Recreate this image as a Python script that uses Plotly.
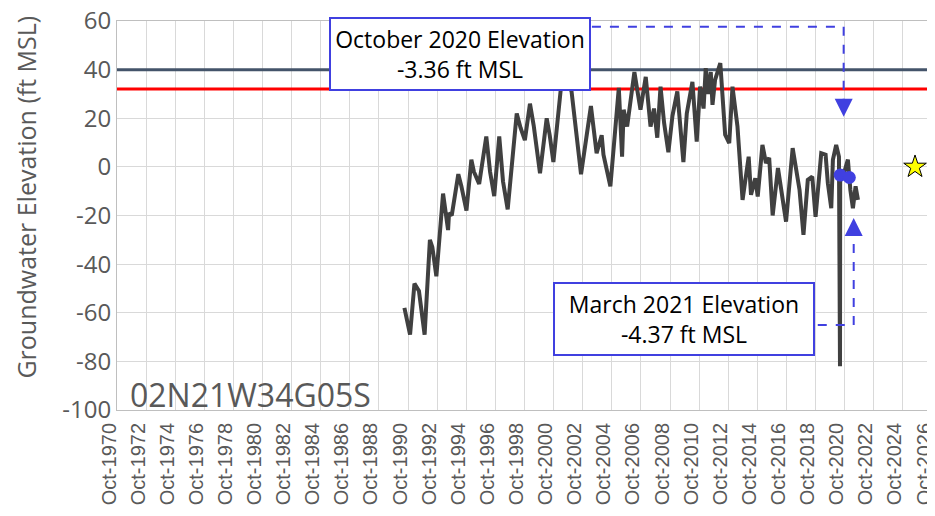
import plotly.graph_objects as go

# Hydrograph readings (date, groundwater elevation in ft MSL)
datas = [
    '1990-07-01', '1990-11-20', '1991-03-10', '1991-07-01', '1991-11-20',
    '1992-04-01', '1992-06-01', '1992-09-10', '1993-02-25', '1993-07-01',
    '1993-07-25', '1993-10-01', '1994-03-15', '1994-06-01', '1994-10-05',
    '1995-02-05', '1995-04-10', '1995-08-20', '1996-02-15', '1996-05-20',
    '1996-09-01', '1997-01-05', '1997-04-10', '1997-08-05', '1998-03-20',
    '1998-06-25', '1998-10-10', '1999-02-15', '1999-05-20', '1999-10-25',
    '2000-04-10', '2000-06-25', '2000-09-25', '2001-04-05', '2001-08-05',
    '2001-12-25', '2002-08-20', '2003-04-25', '2003-09-15', '2004-01-20',
    '2004-03-05', '2004-08-25', '2005-03-25', '2005-06-15', '2005-07-25',
    '2005-10-20', '2006-04-20', '2006-09-20', '2007-01-30', '2007-05-30',
    '2007-08-25', '2007-11-15', '2008-02-05', '2008-05-05', '2008-08-20',
    '2008-11-30', '2009-04-01', '2009-09-01', '2009-11-25', '2010-04-15',
    '2010-08-01', '2010-10-25', '2011-01-20', '2011-03-15', '2011-05-20',
    '2011-07-20', '2011-09-01', '2011-11-05', '2012-03-15', '2012-07-15',
    '2012-10-25', '2013-01-15', '2013-05-20', '2013-09-25', '2014-02-25',
    '2014-04-25', '2014-08-10', '2014-10-10', '2015-02-05', '2015-05-05',
    '2015-07-25', '2015-10-20', '2016-03-01', '2016-05-20', '2016-09-20',
    '2017-03-05', '2017-05-30', '2017-08-25', '2017-12-01', '2018-03-20',
    '2018-07-10', '2018-10-01', '2019-02-20', '2019-06-10', '2019-08-05',
    '2019-10-30', '2019-12-10', '2020-03-01', '2020-05-10', '2020-06-05',
    '2020-06-10', '2020-08-20', '2020-12-20', '2021-01-25', '2021-02-20',
    '2021-04-25', '2021-07-01', '2021-08-30',
]
elevacao = [
    -58, -69, -48, -51, -69,
    -30, -33, -45, -11, -26,
    -19, -20, -3, -8, -18,
    3, -2, -7, 12.5, -2,
    -12, 12.5, -6, -17.5, 22,
    16, 11, 26, 17, -2.6,
    20, 13, 2, 33, 36,
    31, -3, 25, 5.6, 13,
    5, -8, 32.5, 4.2, 23.5,
    16.6, 39, 23.5, 37, 16.6,
    24, 12, 33, 18, 6,
    21, 31, 2, 22, 35,
    10.4, 33, 24, 40.6, 30,
    39, 25.5, 35.8, 42.7, 13.2,
    9.8, 33, 16.6, -13.6, 4.2,
    -11.5, -4.7, -12.2, 9, 1.6,
    3.7, -20, -0.5, -9.5, -22.5,
    7.7, 0, -9.5, -28, -5.3,
    -4, -20.5, 5.6, 5, -6.7,
    -17, 2.9, 9, 4.2, -82,
    -3.36, -4, 3, -4.37, -9.5,
    -17, -8, -13.6,
]

# highlighted readings
destaque_datas = ['2020-06-10', '2021-01-25']
destaque_valores = [-3.36, -4.37]

# reference levels (ft MSL)
nivel_cinza = 40
nivel_vermelho = 32
limites_x = ['1970-10-01', '2026-10-01']

# star marker
estrela_data = ['2025-08-01']
estrela_valor = [0]

anos_ticks = list(range(1970, 2027, 2))
tick_vals = [f'{a}-10-01' for a in anos_ticks]
tick_text = [f'Oct-{a}' for a in anos_ticks]

y_ticks = [-100, -80, -60, -40, -20, 0, 20, 40, 60]
y_text = ['-100', '-80', '-60', '-40', '-20', '0', '20', '40', '60']

poco = '02N21W34G05S'
titulo_y = 'Groundwater Elevation (ft MSL)'
texto_out = 'October 2020 Elevation<br>-3.36 ft MSL'
texto_mar = 'March 2021 Elevation<br>-4.37 ft MSL'

azul = '#4040E0'
cinza_txt = '#595959'

fig = go.Figure()

fig.add_trace(go.Scatter(
    x=limites_x, y=[nivel_cinza, nivel_cinza], mode='lines',
    line=dict(color='#44546A', width=3), hoverinfo='skip'
))
fig.add_trace(go.Scatter(
    x=limites_x, y=[nivel_vermelho, nivel_vermelho], mode='lines',
    line=dict(color='#FF0000', width=3), hoverinfo='skip'
))
fig.add_trace(go.Scatter(
    x=datas, y=elevacao, mode='lines',
    line=dict(color='#404040', width=4)
))
fig.add_trace(go.Scatter(
    x=destaque_datas, y=destaque_valores, mode='markers',
    marker=dict(color=azul, size=13)
))
fig.add_trace(go.Scatter(
    x=estrela_data, y=estrela_valor, mode='markers',
    marker=dict(symbol='star', color='#FFFF00', size=17,
                line=dict(color='black', width=1))
))

# dashed leader lines
linha = dict(color=azul, width=2, dash='dash')
fig.add_shape(type='line', x0='2003-05-20', x1='2020-09-05', y0=57.6, y1=57.6, line=linha)
fig.add_shape(type='line', x0='2020-09-05', x1='2020-09-05', y0=57.6, y1=26, line=linha)
fig.add_shape(type='line', x0='2018-11-25', x1='2021-05-15', y0=-65, y1=-65, line=linha)
fig.add_shape(type='line', x0='2021-05-15', x1='2021-05-15', y0=-65, y1=-27, line=linha)

# arrow heads
fig.add_annotation(x='2020-09-05', y=20.6, ax=0, ay=-16, text='', showarrow=True,
                   arrowhead=2, arrowsize=1.8, arrowwidth=2, arrowcolor=azul)
fig.add_annotation(x='2021-05-15', y=-21, ax=0, ay=16, text='', showarrow=True,
                   arrowhead=2, arrowsize=1.8, arrowwidth=2, arrowcolor=azul)

# text boxes
caixa = dict(showarrow=False, xref='paper', yref='paper', xanchor='center', yanchor='middle',
             bgcolor='white', bordercolor=azul, borderwidth=2, borderpad=2,
             width=254, height=66,
             font=dict(family='Open Sans', size=23, color='black'))
fig.add_annotation(x=0.421, y=0.915, text=texto_out, **caixa)
fig.add_annotation(x=0.696, y=0.233, text=texto_mar, **caixa)

fig.add_annotation(x=0.013, y=0.039, xref='paper', yref='paper',
                   xanchor='left', yanchor='middle',
                   text=poco, showarrow=False,
                   font=dict(family='Open Sans', size=32, color=cinza_txt))

# y axis title, sits a bit above the middle of the axis
fig.add_annotation(x=0, y=0.546, xref='paper', yref='paper', xshift=-91,
                   xanchor='center', yanchor='middle', textangle=-90,
                   text=titulo_y, showarrow=False,
                   font=dict(family='Open Sans', size=25, color=cinza_txt))

# the page body has an 8px margin: the figure starts at (8, 8) on the page,
# so margins are offset and the right part runs past the window edge
fig.update_layout(
    width=935, height=508,
    margin=dict(l=109, r=11, t=13, b=106, autoexpand=False),
    plot_bgcolor='white', paper_bgcolor='white',
    showlegend=False,
    xaxis=dict(
        type='date', range=limites_x, tickvals=tick_vals, ticktext=tick_text,
        tickangle=-90, tickfont=dict(family='Liberation Sans', size=20, color=cinza_txt),
        ticklabeloverflow='allow', automargin=False,
        ticklabelshift=-8, ticklabelstandoff=4,
        showgrid=True, gridcolor='#D9D9D9', gridwidth=1,
        showline=True, linecolor='#BFBFBF', linewidth=1, mirror=True,
        ticks='', zeroline=False
    ),
    yaxis=dict(
        range=[-100, 60], tickvals=y_ticks, ticktext=y_text,
        tickfont=dict(family='Open Sans', size=24, color=cinza_txt),
        ticklabeloverflow='allow', automargin=False,
        showgrid=True, gridcolor='#D9D9D9', gridwidth=1,
        zeroline=True, zerolinecolor='#D9D9D9', zerolinewidth=1,
        showline=True, linecolor='#BFBFBF', linewidth=1, mirror=True,
        ticks=''
    )
)

fig.write_html("out.html")
